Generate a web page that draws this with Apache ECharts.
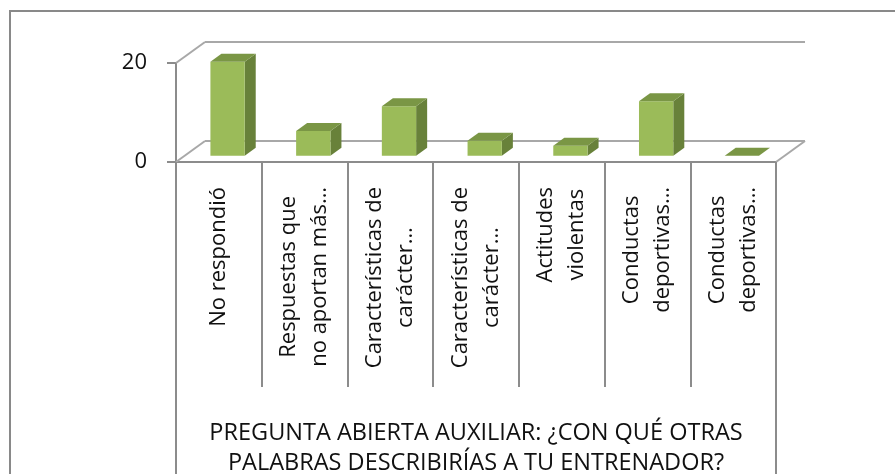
<!DOCTYPE html>
<html>
<head>
<meta charset="utf-8">
<script src="https://cdn.jsdelivr.net/npm/echarts@6/dist/echarts.min.js"></script>
<style>
html, body { margin: 0; padding: 0; background: #fff; }
#main { width: 895px; height: 474px; }
</style>
</head>
<body>
<div id="main"></div>
<script>
// categorias (con saltos de linea como en el original)
var categories = [
    'No respondió',
    'Respuestas que\nno aportan más…',
    'Características de\ncarácter…',
    'Características de\ncarácter…',
    'Actitudes\nviolentas',
    'Conductas\ndeportivas…',
    'Conductas\ndeportivas…'
];
var values = [19, 5, 10, 3, 2, 11, 0];
var yTicks = [0, 20];
var axisTitle = 'PREGUNTA ABIERTA AUXILIAR: ¿CON QUÉ OTRAS\nPALABRAS DESCRIBIRÍAS A TU ENTRENADOR?';

var FONT = '"Open Sans", sans-serif';
var DX = 29, DY = -21;          // profundidad del "3D"
var F0 = 0.3, F1 = 0.68;        // posicion de la barra en la profundidad
var BAR_W = 0.4;
var lineGray = '#8c8c8c';
var wallGray = '#a8a8a8';

var myChart = echarts.init(document.getElementById('main'));

// pared del fondo + suelo + bordes de la tabla
function renderWall(params, api) {
    var cs = params.coordSys;
    var v = api.value(0);
    var y = api.coord([0, v])[1];
    var x0 = cs.x, x1 = cs.x + cs.width;
    var st = { stroke: wallGray, lineWidth: 2 };
    var kids = [
        { type: 'line', shape: { x1: x0 + DX, y1: y + DY, x2: x1 + DX, y2: y + DY }, style: st },
        { type: 'line', shape: { x1: x0, y1: y, x2: x0 + DX, y2: y + DY }, style: st }
    ];
    if (v === 0) {
        kids.push({ type: 'line', shape: { x1: x1, y1: y, x2: x1 + DX, y2: y + DY }, style: st });
        var tb = { stroke: lineGray, lineWidth: 2 };
        kids.push({ type: 'line', shape: { x1: x0, y1: y, x2: x0, y2: api.getHeight() }, style: tb });
        kids.push({ type: 'line', shape: { x1: x1, y1: y, x2: x1, y2: api.getHeight() }, style: tb });
    }
    return { type: 'group', children: kids };
}

// barra con cara frontal, superior y lateral
function renderBar(params, api) {
    var idx = api.value(0);
    var base = api.coord([idx, 0]);
    var top = api.coord([idx, api.value(1)]);
    var w = api.size([1, 0])[0] * BAR_W;
    var xl = base[0] - w / 2, xr = base[0] + w / 2;
    var yb = base[1], yt = top[1];
    var kids = [];
    if (yb - yt > 0.5) {
        kids.push({
            type: 'polygon',
            shape: { points: [[xr + DX * F0, yt + DY * F0], [xr + DX * F1, yt + DY * F1], [xr + DX * F1, yb + DY * F1], [xr + DX * F0, yb + DY * F0]] },
            style: { fill: '#68813A' }
        });
        kids.push({
            type: 'rect',
            shape: { x: xl + DX * F0, y: yt + DY * F0, width: w, height: yb - yt },
            style: { fill: '#9BBB59' }
        });
    }
    kids.push({
        type: 'polygon',
        shape: { points: [[xl + DX * F0, yt + DY * F0], [xr + DX * F0, yt + DY * F0], [xr + DX * F1, yt + DY * F1], [xl + DX * F1, yt + DY * F1]] },
        style: { fill: '#7A9645' }
    });
    return { type: 'group', children: kids };
}

var option = {
    animation: false,
    backgroundColor: '#fff',
    graphic: [{
        type: 'rect',
        shape: { x: 10, y: 11, width: 1000, height: 1000 },
        style: { fill: 'none', stroke: '#898989', lineWidth: 2 },
        z: -10
    }],
    grid: {
        left: 176,
        right: 119,
        top: 63,
        bottom: 312,
        containLabel: false,
        outerBoundsMode: 'none'
    },
    xAxis: {
        type: 'category',
        data: categories,
        name: axisTitle,
        nameLocation: 'middle',
        nameGap: 256,
        nameMoveOverlap: false,
        nameTextStyle: { fontFamily: FONT, fontSize: 23.5, lineHeight: 30, color: '#111' },
        axisLine: { show: true, lineStyle: { color: lineGray, width: 2 } },
        axisTick: { show: true, interval: 0, length: 225, lineStyle: { color: lineGray, width: 2 } },
        axisLabel: {
            interval: 0,
            rotate: 90,
            margin: 25,
            hideOverlap: false,
            formatter: function(v) {
                return v.split('\n').map(function(s) { return '{c|' + s + '}'; }).join('\n');
            },
            rich: {
                c: { align: 'center', fontFamily: FONT, fontSize: 22, lineHeight: 31, color: '#111' }
            }
        },
        splitLine: { show: false }
    },
    yAxis: {
        type: 'value',
        min: 0,
        max: 20,
        interval: 20,
        axisLine: { show: true, lineStyle: { color: lineGray, width: 2 } },
        axisTick: { show: true, length: 9, lineStyle: { color: lineGray, width: 2 } },
        axisLabel: { margin: 29, fontFamily: FONT, fontSize: 22, color: '#111' },
        splitLine: { show: false }
    },
    series: [{
        name: 'pared',
        type: 'custom',
        renderItem: renderWall,
        data: yTicks.map(function(t) { return [t]; }),
        encode: { y: 0 },
        silent: true,
        z: 1
    }, {
        name: 'respuestas',
        type: 'custom',
        renderItem: renderBar,
        data: values.map(function(v, i) { return [i, v]; }),
        encode: { x: 0, y: 1 },
        z: 2
    }]
};
myChart.setOption(option);
</script>
</body>
</html>
